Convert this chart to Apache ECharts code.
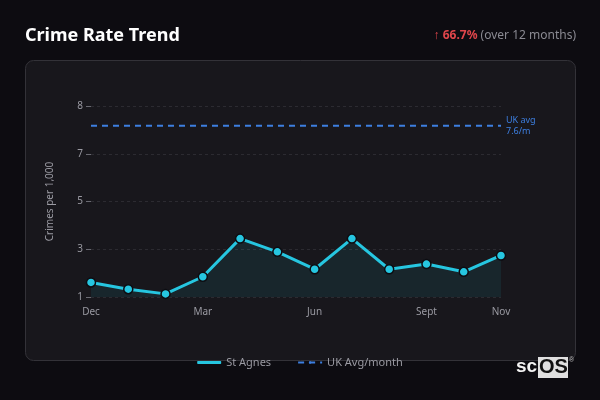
<!DOCTYPE html>
<html>
<head>
<meta charset="utf-8">
<script src="https://cdn.jsdelivr.net/npm/echarts@6/dist/echarts.min.js"></script>
<style>
html,body{margin:0;padding:0;background:#0d0c11;}
#c{width:600px;height:400px;}
</style>
</head>
<body>
<div id="c"></div>
<script>
var months = ['Dec','Jan','Feb','Mar','Apr','May','Jun','Jul','Aug','Sept','Oct','Nov'];
var stAgnes = [1.56, 1.3, 1.12, 1.78, 3.25, 2.74, 2.07, 3.25, 2.07, 2.27, 1.97, 2.6];
var ukAvgValue = 7.6;
var ukAvg = months.map(function(){ return ukAvgValue; });
var changeText = '66.7%';

var chart = echarts.init(document.getElementById('c'));
var font = '"Noto Sans", "Open Sans", sans-serif';
chart.setOption({
  backgroundColor: '#0d0c11',
  textStyle: {fontFamily: font},
  animation: false,
  graphic: [
    {type:'rect', z:-10, shape:{x:25.5, y:60.5, width:550, height:300, r:8},
     style:{fill:'#18171c', stroke:'#333238', lineWidth:1}},
    {type:'text', left:25, top:27, style:{text:'Crime Rate Trend', fill:'#ffffff', font:'bold 18px "Noto Sans", sans-serif'}},
    {type:'text', right:24, top:30, style:{
      rich:{
        a:{fill:'#e0464b', fontSize:12, fontFamily:font},
        b:{fill:'#e0464b', fontSize:12, fontWeight:'bold', fontFamily:font},
        c:{fill:'#8a8a92', fontSize:12, fontFamily:font}
      },
      text:'{a|↑ }{b|' + changeText + '}{c| (over 12 months)}'
    }},
    {type:'text', left:516, top:357, style:{text:'sc', fill:'#f2f2f2', font:'bold 19px "Liberation Sans", Arial, sans-serif'}},
    {type:'rect', shape:{x:538, y:357, width:30, height:21}, style:{fill:'#e0e0e0'}},
    {type:'text', left:539, top:357, style:{text:'OS', fill:'#111', font:'bold 20px "Liberation Sans", Arial, sans-serif'}},
    {type:'text', left:569, top:357, style:{text:'®', fill:'#bbb', font:'7px sans-serif'}}
  ],
  legend: {
    top: 352,
    left: 'center',
    itemWidth: 24,
    itemHeight: 3,
    itemGap: 26,
    itemStyle: {borderWidth: 0},
    textStyle: {color:'#9a9aa2', fontSize:11},
    data: [{name:'St Agnes', icon:'roundRect', itemStyle:{color:'#26c6e0', borderWidth:0}}, {name:'UK Avg/month'}]
  },
  grid: {left:91, right:99, top:106, bottom:103},
  xAxis: {
    type:'category',
    data: months,
    boundaryGap:false,
    axisLine:{show:false},
    axisTick:{show:false},
    axisLabel:{
      color:'#9a9aa2', fontSize:10, margin:10,
      interval: function(i){ return i % 3 === 0 || i === months.length - 1; }
    }
  },
  yAxis: {
    type:'value',
    min:1, max:8.36, interval:1.84,
    name:'Crimes per 1,000',
    nameLocation:'middle',
    nameGap:36,
    nameTextStyle:{color:'#9a9aa2', fontSize:10},
    axisLine:{show:false},
    axisTick:{show:true, length:5, lineStyle:{color:'#6a6a72'}},
    axisLabel:{color:'#9a9aa2', fontSize:10, margin:8,
      formatter:function(v){ return Math.round(v); }},
    splitLine:{show:true, lineStyle:{color:'#2c2b31', type:[3,3]}}
  },
  series: [
    {
      name:'St Agnes', type:'line', data: stAgnes,
      symbol:'circle', symbolSize:9,
      lineStyle:{color:'#26c6e0', width:3},
      itemStyle:{color:'#26c6e0', borderColor:'#0d0c11', borderWidth:1.5},
      areaStyle:{color:'rgba(38,198,224,0.12)'},
      z:3
    },
    {
      name:'UK Avg/month', type:'line', data: ukAvg,
      symbol:'none',
      lineStyle:{color:'#3d7fe0', width:2, type:[6,5]},
      itemStyle:{color:'#3d7fe0'},
      endLabel:{show:true, formatter:'UK avg\n' + ukAvgValue + '/m', color:'#3d7fe0', fontSize:9, lineHeight:11, distance:5},
      z:2
    }
  ]
});
</script>
</body>
</html>
